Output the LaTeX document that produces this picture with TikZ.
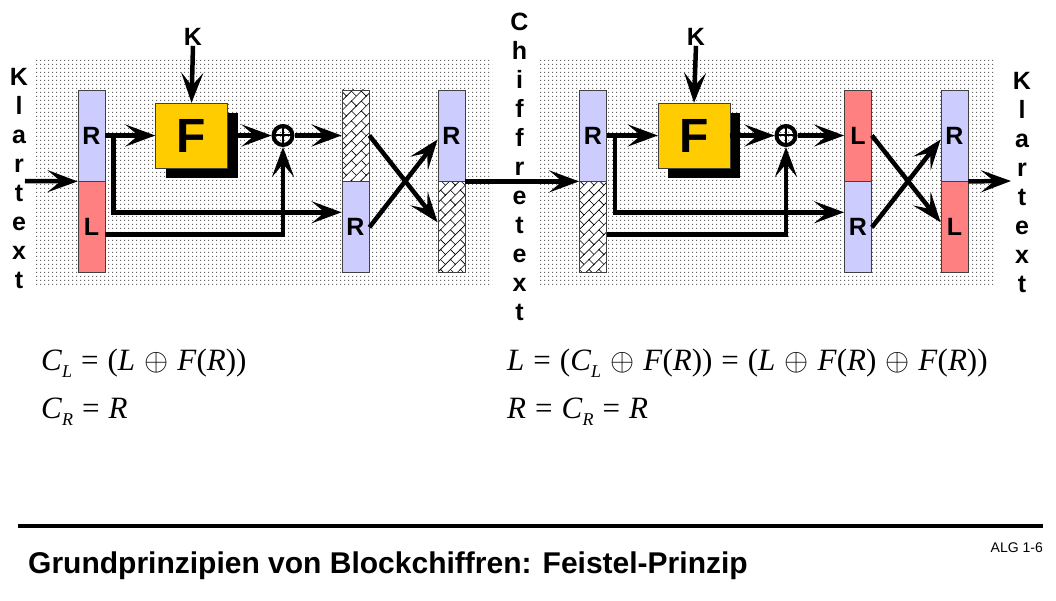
\RequirePackage{fix-cm}
\documentclass[tikz,border=0pt]{standalone}
\usepackage{fontspec}
\setmainfont{Liberation Sans}
\newfontfamily\eqfont{Liberation Serif}
\usetikzlibrary{arrows.meta,positioning,patterns.meta,shadows}

\definecolor{rblue}{HTML}{CCCCFF}
\definecolor{lred}{HTML}{FF8080}
\definecolor{fyellow}{HTML}{FFCC00}

\tikzdeclarepattern{
  name=fdots, type=uncolored,
  bottom left={(0pt,0pt)}, top right={(4pt,4pt)}, tile size={(4pt,4pt)},
  code={\fill (0pt,0pt) rectangle (1.3pt,1.3pt);}
}
\tikzdeclarepattern{
  name=dbricks, type=uncolored,
  bottom left={(-1pt,-1pt)}, top right={(15pt,15pt)}, tile size={(14pt,14pt)},
  tile transformation={rotate=45},
  code={\draw[line width=.6pt] (-1pt,0pt) -- (15pt,0pt) (-1pt,7pt) -- (15pt,7pt)
    (0pt,0pt) -- (0pt,7pt) (7pt,7pt) -- (7pt,14pt);}
}
\newcommand{\sub}[1]{\raisebox{-.25em}{\fontsize{18}{18}\selectfont\itshape #1}}
\newcommand{\mi}[1]{\textit{#1}}
\newcommand{\xo}{\hspace{9pt}$\oplus$\hspace{9pt}}
\newcommand{\eqs}{\hspace{9pt}=\hspace{9pt}}

\begin{document}
\begin{tikzpicture}[x=1pt,y=-1pt,
  blk/.style={draw=black!75,line width=.8pt,minimum width=27pt,minimum height=91pt,inner sep=0pt,font=\fontsize{25}{25}\selectfont\bfseries},
  rblk/.style={blk,fill=rblue},
  lblk/.style={blk,fill=lred},
  hblk/.style={blk,preaction={fill=white},pattern=dbricks},
  fbox/.style={draw=black!75,fill=fyellow,minimum width=72pt,minimum height=65pt,inner sep=0pt,font=\fontsize{48}{48}\selectfont\bfseries,
    drop shadow={shadow xshift=10pt,shadow yshift=-10pt,fill=black,opacity=1}},
  xor/.style={circle,draw,line width=4pt,minimum size=19pt,inner sep=0pt,
    path picture={\draw[line width=2pt] (path picture bounding box.north) -- (path picture bounding box.south)
      (path picture bounding box.west) -- (path picture bounding box.east);}},
  lbl/.style={font=\fontsize{25}{29}\selectfont\bfseries,align=center,inner sep=0pt},
  eq/.style={anchor=base west,inner sep=0pt,font=\eqfont\fontsize{31}{31}\selectfont},
  arr/.style={line width=4.5pt,-{Stealth[length=30pt,width=22pt,inset=13pt]}},
  panel/.style={pattern=fdots,pattern color=black!60}
]
\useasboundingbox (0,0) rectangle (1056,601);
\path[panel] (36,60) rectangle (492,286);
\path[panel] (538,60) rectangle (995,286);

% Verschluesselung
\node[rblk] (eA1) at (91.5,135.5) {R};
\node[lblk,below=0pt of eA1] (eA2) {L};
\node[hblk] (eB1) at (355.5,135.5) {};
\node[rblk,below=0pt of eB1] (eB2) {R};
\node[rblk] (eC1) at (451.5,135.5) {R};
\node[hblk,below=0pt of eC1] (eC2) {};
\node[fbox] (eF) at (191.5,135.5) {F};
\node[xor] (eX) at (283,135.5) {};
\node[lbl] (eK) at (193,37) {K};
\node[lbl] (eIn) at (19,178.5) {K\\l\\a\\r\\t\\e\\x\\t};
\coordinate (eS) at (25,181);

% Entschluesselung
\node[rblk] (dA1) at (593,135.5) {R};
\node[hblk,below=0pt of dA1] (dA2) {};
\node[lblk] (dB1) at (858,135.5) {L};
\node[rblk,below=0pt of dB1] (dB2) {R};
\node[rblk] (dC1) at (954.5,135.5) {R};
\node[lblk,below=0pt of dC1] (dC2) {L};
\node[fbox] (dF) at (694,135.5) {F};
\node[xor] (dX) at (786,135.5) {};
\node[lbl] (dK) at (696,37) {K};
\node[lbl] (cipher) at (519.5,167) {C\\h\\i\\f\\f\\r\\e\\t\\e\\x\\t};
\node[lbl] (dOut) at (1022,182.5) {K\\l\\a\\r\\t\\e\\x\\t};
\coordinate (dE) at (1011,181);

\draw[arr] (eS) -- (eA1.south west);
\draw[arr] (eA1.east) -- (eF.west);
\draw[arr] (eK.south) -- (eF.north);
\draw[arr] (eF.east) -- (eX.west);
\draw[arr] (eX.east) -- (eB1.west);
\draw[arr] ([xshift=8pt]eA1.east) |- ([yshift=15pt]eB2.west);
\draw[arr] ([yshift=-7pt]eA2.east) -| (eX.south);
\draw[arr] (eB1.east) -- ([yshift=5pt]eC2.west);
\draw[arr] (eB2.east) -- ([yshift=-4pt]eC1.west);
\draw[arr] (eC1.south east) -- (dA1.south west);

\draw[arr] (dA1.east) -- (dF.west);
\draw[arr] (dK.south) -- (dF.north);
\draw[arr] (dF.east) -- (dX.west);
\draw[arr] (dX.east) -- (dB1.west);
\draw[arr] ([xshift=8pt]dA1.east) |- ([yshift=15pt]dB2.west);
\draw[arr] ([yshift=-7pt]dA2.east) -| (dX.south);
\draw[arr] (dB1.east) -- ([yshift=5pt]dC2.west);
\draw[arr] (dB2.east) -- ([yshift=-4pt]dC1.west);
\draw[arr] (dC1.south east) -- (dE);

% Formeln
\node[eq] (eq1) at (41,370) {\mi{C}\sub{L}\eqs(\mi{L}\xo\mi{F}(\mi{R}))};
\node[eq] (eq2) at (41,418) {\mi{C}\sub{R}\eqs\mi{R}};
\node[eq] (eq3) at (507,370) {\mi{L}\eqs(\mi{C}\sub{L}\xo\mi{F}(\mi{R}))\eqs(\mi{L}\xo\mi{F}(\mi{R})\xo\mi{F}(\mi{R}))};
\node[eq] (eq4) at (507,418) {\mi{R}\eqs\mi{C}\sub{R}\eqs\mi{R}};

\draw[line width=4.5pt] (18,526) -- (1043,526);
\node[anchor=base east,inner sep=0pt,font=\fontsize{14}{14}\selectfont] (alg) at (1043,552) {ALG 1-6};
\node[anchor=base west,inner sep=0pt,font=\fontsize{30}{30}\selectfont\bfseries] (title) at (28,573) {Grundprinzipien von Blockchiffren: Feistel-Prinzip};
\end{tikzpicture}
\end{document}
